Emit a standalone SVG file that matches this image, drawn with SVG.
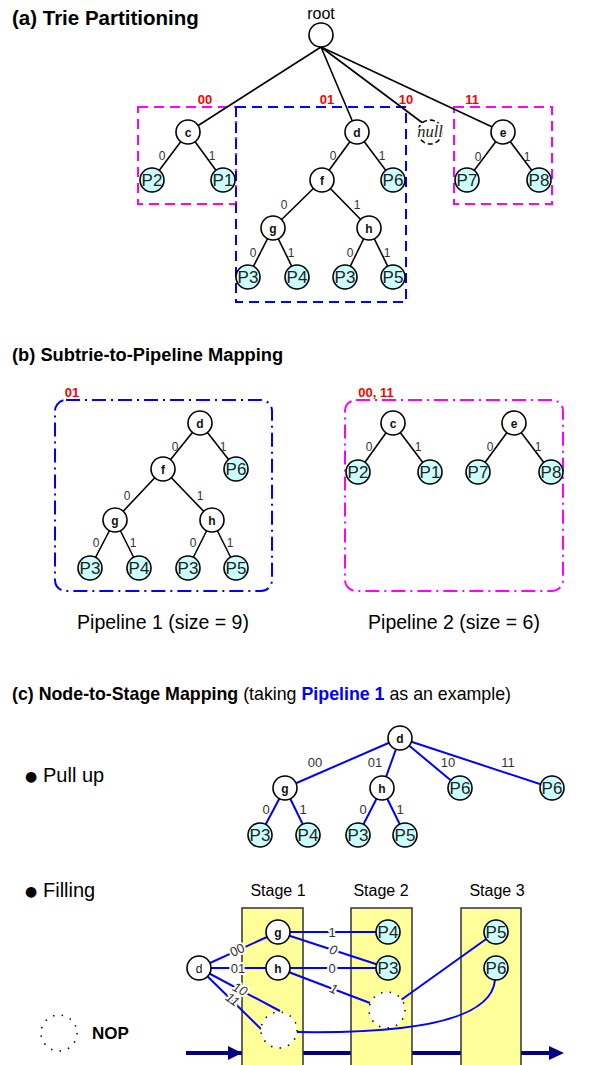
<svg xmlns="http://www.w3.org/2000/svg" width="589" height="1065" viewBox="0 0 589 1065">
<style>
text{font-family:"Liberation Sans",Arial,sans-serif}
.n{fill:#fff;stroke:#000;stroke-width:1.6}
.p{fill:#ccffff;stroke:#000;stroke-width:1.6}
.nop{fill:#fff;stroke:#000;stroke-width:1.6;stroke-dasharray:1.4 7.3}
.lt{font-size:12px;font-weight:bold;text-anchor:middle;fill:#111}
.pt{font-size:17px;text-anchor:middle;fill:#222}
.el{font-size:12px;text-anchor:middle;fill:#333}
.wl{font-size:13px;text-anchor:middle;fill:#333;stroke:#fff;stroke-width:4;paint-order:stroke;stroke-linejoin:round}
.red{font-size:13px;font-weight:bold;fill:#ff0000;text-anchor:middle}
.e{stroke:#000;stroke-width:1.6;fill:none}
.be{stroke:#0000ff;stroke-width:2;fill:none}
.title{font-size:19px;font-weight:bold;fill:#000}
.body{font-size:18px;fill:#000}
.stage{fill:#ffff99;stroke:#333;stroke-width:1.5}
.bul{font-family:"DejaVu Sans",sans-serif;font-size:14px}
</style>

<!-- Titles -->
<text class="title" x="12" y="25" style="font-size:20.5px">(a) Trie Partitioning</text>
<text class="title" x="12" y="361" style="font-size:18.3px">(b) Subtrie-to-Pipeline Mapping</text>
<text x="12" y="700" style="font-size:17.8px"><tspan font-weight="bold">(c) Node-to-Stage Mapping</tspan> (taking <tspan font-weight="bold" fill="#0000ff">Pipeline 1</tspan> as an example)</text>

<!-- (a) partition boxes -->
<g id="a-boxes" fill="none" stroke-width="2" stroke-dasharray="10 6">
<rect x="138" y="107" width="98" height="97" stroke="#ff00ff"/>
<rect x="236" y="107" width="170" height="195" stroke="#0000ff"/>
<rect x="454" y="107" width="98" height="97" stroke="#ff00ff"/>
</g>
<g id="a-partlabels">
<text class="red" x="205" y="104">00</text>
<text class="red" x="327" y="104">01</text>
<text class="red" x="406" y="104">10</text>
<text class="red" x="472" y="104">11</text>
</g>

<!-- (a) connectors -->
<g id="a-connectors">
<line class="e" x1="321" y1="47" x2="188" y2="132"/>
<line class="e" x1="321" y1="47" x2="357" y2="132"/>
<line class="e" x1="321" y1="47" x2="424" y2="124"/>
<line class="e" x1="321" y1="47" x2="503" y2="132"/>
<line class="e" x1="188" y1="132" x2="152" y2="180"/>
<line class="e" x1="188" y1="132" x2="223" y2="180"/>
<line class="e" x1="357" y1="132" x2="322" y2="180"/>
<line class="e" x1="357" y1="132" x2="393" y2="180"/>
<line class="e" x1="322" y1="180" x2="273" y2="228"/>
<line class="e" x1="322" y1="180" x2="369" y2="228"/>
<line class="e" x1="273" y1="228" x2="248" y2="277"/>
<line class="e" x1="273" y1="228" x2="297" y2="277"/>
<line class="e" x1="369" y1="228" x2="345" y2="277"/>
<line class="e" x1="369" y1="228" x2="393" y2="277"/>
<line class="e" x1="503" y1="132" x2="467" y2="180"/>
<line class="e" x1="503" y1="132" x2="539" y2="180"/>
<text class="el" x="162" y="160">0</text><text class="el" x="212" y="160">1</text>
<text class="el" x="333" y="160">0</text><text class="el" x="382" y="160">1</text>
<text class="el" x="284" y="209">0</text><text class="el" x="357" y="209">1</text>
<text class="el" x="253" y="257">0</text><text class="el" x="291" y="257">1</text>
<text class="el" x="350" y="257">0</text><text class="el" x="387" y="257">1</text>
<text class="el" x="478" y="161">0</text><text class="el" x="527" y="161">1</text>
</g>

<!-- (a) nodes -->
<g id="a-root"><text x="321" y="19" style="font-size:16px;text-anchor:middle">root</text><circle class="n" cx="321" cy="35" r="12"/></g>
<g id="a-c"><circle class="n" cx="188" cy="132" r="12"/><text class="lt" x="188" y="136.5">c</text></g>
<g id="a-d"><circle class="n" cx="357" cy="132" r="12"/><text class="lt" x="357" y="136.5">d</text></g>
<g id="a-null"><circle cx="430" cy="132" r="12" fill="#fff" stroke="#000" stroke-width="1.6" stroke-dasharray="5 3"/><text x="430" y="137" style="font-family:'Liberation Serif',serif;font-style:italic;font-size:16.5px;text-anchor:middle;stroke:#fff;stroke-width:3;paint-order:stroke;fill:#222">null</text></g>
<g id="a-e"><circle class="n" cx="503" cy="132" r="12"/><text class="lt" x="503" y="136.5">e</text></g>
<g id="a-P2"><circle class="p" cx="152" cy="180" r="12"/><text class="pt" x="152" y="186">P2</text></g>
<g id="a-P1"><circle class="p" cx="223" cy="180" r="12"/><text class="pt" x="223" y="186">P1</text></g>
<g id="a-f"><circle class="n" cx="322" cy="180" r="12"/><text class="lt" x="322" y="184.5">f</text></g>
<g id="a-P6"><circle class="p" cx="393" cy="180" r="12"/><text class="pt" x="393" y="186">P6</text></g>
<g id="a-g"><circle class="n" cx="273" cy="228" r="12"/><text class="lt" x="273" y="232.5">g</text></g>
<g id="a-h"><circle class="n" cx="369" cy="228" r="12"/><text class="lt" x="369" y="232.5">h</text></g>
<g id="a-P3a"><circle class="p" cx="248" cy="277" r="12"/><text class="pt" x="248" y="283">P3</text></g>
<g id="a-P4"><circle class="p" cx="297" cy="277" r="12"/><text class="pt" x="297" y="283">P4</text></g>
<g id="a-P3b"><circle class="p" cx="345" cy="277" r="12"/><text class="pt" x="345" y="283">P3</text></g>
<g id="a-P5"><circle class="p" cx="393" cy="277" r="12"/><text class="pt" x="393" y="283">P5</text></g>
<g id="a-P7"><circle class="p" cx="467" cy="180" r="12"/><text class="pt" x="467" y="186">P7</text></g>
<g id="a-P8"><circle class="p" cx="539" cy="180" r="12"/><text class="pt" x="539" y="186">P8</text></g>

<!-- (b) pipelines -->
<g id="b-pipe1">
<rect x="55" y="400" width="217" height="191" rx="11" fill="none" stroke="#0000ff" stroke-width="2" stroke-dasharray="14 5 2 5"/>
<text class="red" x="72" y="397">01</text>
<text class="body" x="163" y="629" text-anchor="middle" style="font-size:19.5px">Pipeline 1 (size = 9)</text>
</g>
<g id="b-pipe2">
<rect x="345" y="400" width="218" height="191" rx="11" fill="none" stroke="#ff00ff" stroke-width="2" stroke-dasharray="14 5 2 5"/>
<text class="red" x="376" y="397">00, 11</text>
<text class="body" x="454" y="629" text-anchor="middle" style="font-size:19.5px">Pipeline 2 (size = 6)</text>
</g>
<g id="b-connectors">
<line class="e" x1="200" y1="423" x2="163" y2="469"/>
<line class="e" x1="200" y1="423" x2="236" y2="469"/>
<line class="e" x1="163" y1="469" x2="115" y2="520"/>
<line class="e" x1="163" y1="469" x2="212" y2="520"/>
<line class="e" x1="115" y1="520" x2="90" y2="568"/>
<line class="e" x1="115" y1="520" x2="139" y2="568"/>
<line class="e" x1="212" y1="520" x2="188" y2="568"/>
<line class="e" x1="212" y1="520" x2="236" y2="568"/>
<line class="e" x1="393" y1="423" x2="358" y2="472"/>
<line class="e" x1="393" y1="423" x2="430" y2="472"/>
<line class="e" x1="514" y1="423" x2="478" y2="472"/>
<line class="e" x1="514" y1="423" x2="551" y2="472"/>
<text class="el" x="175" y="451">0</text><text class="el" x="223" y="451">1</text>
<text class="el" x="127" y="500">0</text><text class="el" x="200" y="500">1</text>
<text class="el" x="96" y="547">0</text><text class="el" x="133" y="547">1</text>
<text class="el" x="193" y="547">0</text><text class="el" x="230" y="547">1</text>
<text class="el" x="369" y="451">0</text><text class="el" x="418" y="451">1</text>
<text class="el" x="490" y="451">0</text><text class="el" x="538" y="451">1</text>
</g>
<g id="b-d"><circle class="n" cx="200" cy="423" r="12"/><text class="lt" x="200" y="427.5">d</text></g>
<g id="b-f"><circle class="n" cx="163" cy="469" r="12"/><text class="lt" x="163" y="473.5">f</text></g>
<g id="b-P6"><circle class="p" cx="236" cy="469" r="12"/><text class="pt" x="236" y="475">P6</text></g>
<g id="b-g"><circle class="n" cx="115" cy="520" r="12"/><text class="lt" x="115" y="524.5">g</text></g>
<g id="b-h"><circle class="n" cx="212" cy="520" r="12"/><text class="lt" x="212" y="524.5">h</text></g>
<g id="b-P3a"><circle class="p" cx="90" cy="568" r="12"/><text class="pt" x="90" y="574">P3</text></g>
<g id="b-P4"><circle class="p" cx="139" cy="568" r="12"/><text class="pt" x="139" y="574">P4</text></g>
<g id="b-P3b"><circle class="p" cx="188" cy="568" r="12"/><text class="pt" x="188" y="574">P3</text></g>
<g id="b-P5"><circle class="p" cx="236" cy="568" r="12"/><text class="pt" x="236" y="574">P5</text></g>
<g id="b-c"><circle class="n" cx="393" cy="423" r="12"/><text class="lt" x="393" y="427.5">c</text></g>
<g id="b-P2"><circle class="p" cx="358" cy="472" r="12"/><text class="pt" x="358" y="478">P2</text></g>
<g id="b-P1"><circle class="p" cx="430" cy="472" r="12"/><text class="pt" x="430" y="478">P1</text></g>
<g id="b-e"><circle class="n" cx="514" cy="423" r="12"/><text class="lt" x="514" y="427.5">e</text></g>
<g id="b-P7"><circle class="p" cx="478" cy="472" r="12"/><text class="pt" x="478" y="478">P7</text></g>
<g id="b-P8"><circle class="p" cx="551" cy="472" r="12"/><text class="pt" x="551" y="478">P8</text></g>

<!-- (c) bullets -->
<text class="bul" x="25" y="781">●</text><text class="body" x="43" y="782" style="font-size:20px">Pull up</text>
<text class="bul" x="25" y="896">●</text><text class="body" x="43" y="897" style="font-size:20px">Filling</text>

<!-- (c) pull up -->
<g id="c-pull-connectors">
<line class="be" x1="400" y1="738" x2="285" y2="788"/>
<line class="be" x1="400" y1="738" x2="382" y2="788"/>
<line class="be" x1="400" y1="738" x2="460" y2="788"/>
<line class="be" x1="400" y1="738" x2="552" y2="788"/>
<line class="be" x1="285" y1="788" x2="260" y2="835"/>
<line class="be" x1="285" y1="788" x2="308" y2="835"/>
<line class="be" x1="382" y1="788" x2="358" y2="835"/>
<line class="be" x1="382" y1="788" x2="405" y2="835"/>
<text class="el" x="315" y="767" style="font-size:13px">00</text>
<text class="el" x="375" y="767" style="font-size:13px">01</text>
<text class="el" x="448" y="767" style="font-size:13px">10</text>
<text class="el" x="508" y="767" style="font-size:13px">11</text>
<text class="el" x="266" y="814" style="font-size:13px">0</text>
<text class="el" x="303" y="814" style="font-size:13px">1</text>
<text class="el" x="363" y="814" style="font-size:13px">0</text>
<text class="el" x="400" y="814" style="font-size:13px">1</text>
</g>
<g id="c-pu-d"><circle class="n" cx="400" cy="738" r="12"/><text class="lt" x="400" y="742.5">d</text></g>
<g id="c-pu-g"><circle class="n" cx="285" cy="788" r="12"/><text class="lt" x="285" y="792.5">g</text></g>
<g id="c-pu-h"><circle class="n" cx="382" cy="788" r="12"/><text class="lt" x="382" y="792.5">h</text></g>
<g id="c-pu-P6a"><circle class="p" cx="460" cy="788" r="12"/><text class="pt" x="460" y="794">P6</text></g>
<g id="c-pu-P6b"><circle class="p" cx="552" cy="788" r="12"/><text class="pt" x="552" y="794">P6</text></g>
<g id="c-pu-P3a"><circle class="p" cx="260" cy="835" r="12"/><text class="pt" x="260" y="841">P3</text></g>
<g id="c-pu-P4"><circle class="p" cx="308" cy="835" r="12"/><text class="pt" x="308" y="841">P4</text></g>
<g id="c-pu-P3b"><circle class="p" cx="358" cy="835" r="12"/><text class="pt" x="358" y="841">P3</text></g>
<g id="c-pu-P5"><circle class="p" cx="405" cy="835" r="12"/><text class="pt" x="405" y="841">P5</text></g>

<!-- (c) filling: pipeline arrow & stages -->
<g id="c-pipeline-arrow" fill="#000080">
<line x1="186" y1="1053" x2="552" y2="1053" stroke="#000080" stroke-width="4"/>
<polygon points="242,1053 228,1046 228,1060"/>
<polygon points="564,1053 549,1046 549,1060"/>
</g>
<g id="c-stage1"><rect class="stage" x="242" y="908" width="61" height="165"/><text x="278" y="896" style="font-size:16px;text-anchor:middle">Stage 1</text></g>
<g id="c-stage2"><rect class="stage" x="351" y="908" width="61" height="165"/><text x="381" y="896" style="font-size:16px;text-anchor:middle">Stage 2</text></g>
<g id="c-stage3"><rect class="stage" x="461" y="908" width="60" height="165"/><text x="497" y="896" style="font-size:16px;text-anchor:middle">Stage 3</text></g>

<g id="c-fill-connectors">
<line class="be" x1="199" y1="968" x2="278" y2="932"/>
<line class="be" x1="199" y1="968" x2="278" y2="968"/>
<line class="be" x1="199" y1="968" x2="280" y2="1011"/>
<line class="be" x1="199" y1="968" x2="261" y2="1029"/>
<line class="be" x1="278" y1="932" x2="388" y2="932"/>
<line class="be" x1="278" y1="932" x2="388" y2="968"/>
<line class="be" x1="278" y1="968" x2="388" y2="968"/>
<line class="be" x1="278" y1="968" x2="370" y2="1003"/>
<line class="be" x1="387" y1="1010" x2="496" y2="932"/>
<path class="be" d="M297 1032 Q490 1035 495 980"/>
<text class="wl" transform="translate(239,954) rotate(-24)">00</text>
<text class="wl" x="238" y="972.5">01</text>
<text class="wl" transform="translate(238,993) rotate(27)" font-style="italic">10</text>
<text class="wl" transform="translate(230,1003) rotate(35)" font-style="italic">11</text>
<text class="wl" x="332" y="936.5">1</text>
<text class="wl" transform="translate(332,954) rotate(18)" font-style="italic">0</text>
<text class="wl" x="332" y="972.5">0</text>
<text class="wl" transform="translate(332,993) rotate(21)" font-style="italic">1</text>
</g>
<g id="c-f-d"><circle class="n" cx="199" cy="968" r="12"/><text class="lt" x="199" y="972.5" style="font-weight:normal">d</text></g>
<g id="c-f-g"><circle class="n" cx="278" cy="932" r="12"/><text class="lt" x="278" y="936.5">g</text></g>
<g id="c-f-h"><circle class="n" cx="278" cy="968" r="12"/><text class="lt" x="278" y="972.5">h</text></g>
<g id="c-f-nop1"><circle class="nop" cx="279" cy="1030" r="18"/></g>
<g id="c-f-P4"><circle class="p" cx="388" cy="932" r="12"/><text class="pt" x="388" y="938">P4</text></g>
<g id="c-f-P3"><circle class="p" cx="388" cy="968" r="12"/><text class="pt" x="388" y="974">P3</text></g>
<g id="c-f-nop2"><circle class="nop" cx="387" cy="1010" r="18"/></g>
<g id="c-f-P5"><circle class="p" cx="496" cy="932" r="12"/><text class="pt" x="496" y="938">P5</text></g>
<g id="c-f-P6"><circle class="p" cx="496" cy="968" r="12"/><text class="pt" x="496" y="974">P6</text></g>

<!-- legend -->
<g id="legend-nop"><circle cx="59" cy="1033" r="18" fill="none" stroke="#000" stroke-width="1.6" stroke-dasharray="1.4 7.3"/><text x="92" y="1039" style="font-size:17px;font-weight:bold">NOP</text></g>
</svg>
